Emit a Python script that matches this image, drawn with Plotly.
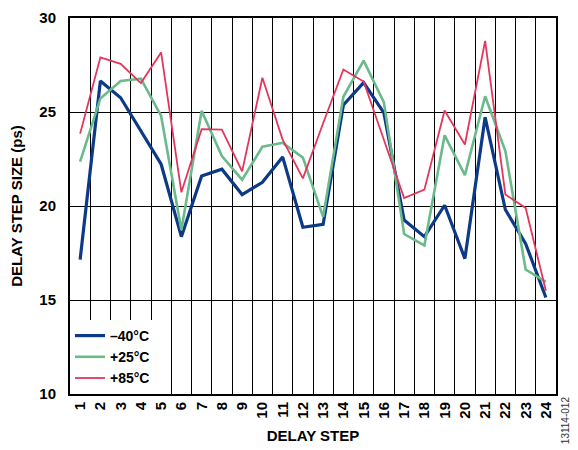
import plotly.graph_objects as go

steps = list(range(1, 25))
step_labels = [str(s) for s in steps]

minus40 = [17.15, 26.65, 25.76, 24.0, 22.22, 18.37, 21.6, 21.96, 20.61, 21.26, 22.61, 18.87,
           19.02, 25.37, 26.56, 24.95, 19.25, 18.37, 20.04, 17.2, 24.72, 19.8, 18.0, 15.13]
plus25 = [22.36, 25.72, 26.65, 26.77, 24.79, 18.72, 25.06, 22.66, 21.4, 23.15, 23.36, 22.57,
          19.42, 25.81, 27.73, 25.51, 18.51, 17.9, 23.76, 21.64, 25.84, 22.92, 16.62, 15.96]
plus85 = [23.85, 27.91, 27.56, 26.54, 28.17, 20.73, 24.09, 24.06, 21.84, 26.82, 23.53, 21.47,
          24.4, 27.26, 26.62, 23.5, 20.42, 20.87, 25.08, 23.27, 28.78, 20.61, 19.9, 15.49]

grid_positions = [s + 0.5 for s in steps[:-1]]
y_ticks = [10, 15, 20, 25, 30]

FONT = "Liberation Sans, Arial, Helvetica, sans-serif"
BOLD = dict(family=FONT, size=15, color="black", weight="bold")

fig = go.Figure()
fig.add_trace(go.Scatter(x=steps, y=minus40, mode="lines", name="\u201340\u00b0C",
                         line=dict(color="#0d3a87", width=3.2)))
fig.add_trace(go.Scatter(x=steps, y=plus25, mode="lines", name="+25\u00b0C",
                         line=dict(color="#6aba8c", width=2.6)))
fig.add_trace(go.Scatter(x=steps, y=plus85, mode="lines", name="+85\u00b0C",
                         line=dict(color="#e4365c", width=1.8)))
# invisible carrier trace so the label axis (x2) is rendered
fig.add_trace(go.Scatter(x=steps, y=minus40, mode="lines", xaxis="x2", yaxis="y",
                         line=dict(width=0, color="rgba(0,0,0,0)"), opacity=0,
                         showlegend=False, hoverinfo="skip"))

fig.update_layout(
    width=570, height=442,
    margin=dict(l=62, r=22, t=10, b=56),
    paper_bgcolor="white", plot_bgcolor="white",
    font=BOLD,
    legend=dict(x=0.0, y=0.0, xanchor="left", yanchor="bottom",
                bgcolor="white", borderwidth=0,
                font=dict(family=FONT, size=14, color="black", weight="bold"),
                itemwidth=30, tracegroupgap=0),
    xaxis=dict(
        range=[0.5, 24.5],
        tickmode="array", tickvals=grid_positions,
        showticklabels=False, ticks="",
        showgrid=True, gridcolor="black", gridwidth=1.3, zeroline=False,
        showline=True, linecolor="black", linewidth=2, mirror=True,
        automargin=False,
    ),
    xaxis2=dict(
        range=[0.5, 24.5], overlaying="x", anchor="y", side="bottom",
        tickmode="array", tickvals=steps, ticktext=step_labels,
        tickangle=-90, showgrid=False, zeroline=False, showline=False,
        ticks="", ticklabelstandoff=4, tickfont=BOLD,
        title=dict(text="DELAY STEP", standoff=12, font=BOLD),
        automargin=False,
    ),
    yaxis=dict(
        range=[10, 30],
        tickmode="array", tickvals=y_ticks,
        showgrid=True, gridcolor="black", gridwidth=1.3, zeroline=False,
        ticks="", ticklabelstandoff=9, tickfont=BOLD, ticklabeloverflow="allow",
        showline=True, linecolor="black", linewidth=2, mirror=True,
        title=dict(text="DELAY STEP SIZE (ps)", standoff=20, font=BOLD),
        automargin=False,
    ),
)

fig.add_annotation(text="13114-012", xref="paper", yref="paper",
                   x=1.0, y=-0.14, xanchor="right", yanchor="bottom",
                   xshift=17, textangle=-90, showarrow=False,
                   font=dict(family=FONT, size=10, color="#333333", weight="normal"))

fig.write_html("out.html")
